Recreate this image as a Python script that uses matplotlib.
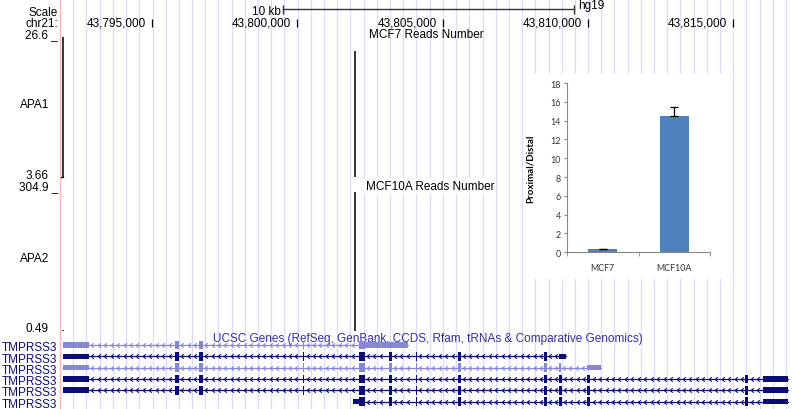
import numpy as np
import matplotlib
matplotlib.use('Agg')
import matplotlib.pyplot as plt
from matplotlib.path import Path
from matplotlib.patches import Rectangle

axis_ticks = [43795000, 43800000, 43805000, 43810000, 43815000]
apa_sites = [43791940, 43801975]
mcf7_reads = [26.6, 24.3]
mcf10a_reads = [0.49, 300.0]
apa1_range = (3.66, 26.6)
apa2_range = (0.49, 304.9)
scale_bar = (43799506, 43809506)

# TMPRSS3 transcripts (exon start, end) and coding range
ex_head = [(43791942, 43792835), (43795790, 43795928), (43796615, 43796752), (43800188, 43800240)]
ex_mid = [(43803143, 43803246), (43804071, 43804122), (43805514, 43805617), (43808486, 43808572)]
ex_tail = [(43809002, 43809088), (43809981, 43810084), (43815410, 43815513), (43816028, 43816887)]
tx1_exons = ex_head + [(43802113, 43803796)]
tx2_exons = ex_head + [(43802113, 43802319)] + ex_mid + [(43809002, 43809225)]
tx3_exons = ex_head + [(43802113, 43802319)] + ex_mid + [(43809002, 43809060), (43809981, 43810462)]
tx4_exons = ex_head + [(43802113, 43802319)] + ex_mid + ex_tail
tx5_exons = ex_head + [(43802113, 43802319)] + ex_mid + ex_tail
tx6_exons = [(43801906, 43802319)] + ex_mid + ex_tail
tx_cds = [(43795790, 43802319), (43795790, 43808572), (43795790, 43809060),
          (43795790, 43815513), (43795790, 43815513), (43802113, 43815513)]
tx_shade = ['light', 'dark', 'light', 'dark', 'dark', 'dark']
tx_names = ['TMPRSS3'] * 6

# inset bar chart
cells = ['MCF7', 'MCF10A']
ratio = [0.35, 14.45]
ratio_err = [0.05, 1.05]

# ---- layout: pixel -> genome ----
BP_PX = 34.4
X0_PX = 152


def g(px):
    return axis_ticks[0] + (px - X0_PX) * BP_PX


plt.rcParams['font.family'] = ['Liberation Sans', 'DejaVu Sans']
fig = plt.figure(figsize=(7.92, 4.10), dpi=100)
ax = fig.add_axes([0, 0, 1, 1])
ax.set_xlim(g(0), g(792))
ax.set_ylim(410, 0)
ax.axis('off')

FS = 8.5
dark = '#0c0c78'
light = '#8787d6'

# guidelines
grid_px = np.arange(73.3, 792, 13.2)
ax.vlines([g(p) for p in grid_px], 0, 410, color='#dcdcf8', lw=0.9, zorder=0)
ax.vlines(g(60.5), 0, 410, color='#f4b8b8', lw=0.9, zorder=1)

# left labels
ax.text(g(58), 16.3, 'Scale', ha='right', fontsize=FS)
ax.text(g(58), 26.8, 'chr21:', ha='right', fontsize=FS)
ax.text(g(58), 37.8, '26.6 _', ha='right', fontsize=FS)
ax.text(g(35), 108, 'APA1', ha='center', fontsize=FS)
ax.text(g(48.5), 179, '3.66', ha='right', fontsize=FS)
ax.text(g(58), 190.5, '304.9 _', ha='right', fontsize=FS)
ax.text(g(35), 262, 'APA2', ha='center', fontsize=FS)
ax.text(g(48.5), 331.7, '0.49', ha='right', fontsize=FS)

# scale bar
ax.plot(scale_bar, [10, 10], color='#333333', lw=1)
ax.vlines(scale_bar, 6, 14.5, color='#333333', lw=1)
ax.text(scale_bar[0] - 2 * BP_PX, 15, '10 kb', ha='right', fontsize=FS)
ax.text(scale_bar[1] + 4 * BP_PX, 9.5, 'hg19', ha='left', fontsize=FS)

# position ruler
for t in axis_ticks:
    ax.vlines(t, 19.5, 27.5, color='black', lw=0.9)
    ax.text(t - 6 * BP_PX, 27, '{:,}'.format(t), ha='right', fontsize=FS)

# signal tracks
mid = (g(60) + g(792)) / 2
ax.text(mid, 37.8, 'MCF7 Reads Number', ha='center', fontsize=FS)
ax.text(g(430), 190, 'MCF10A Reads Number', ha='center', fontsize=FS,
        bbox=dict(facecolor='white', edgecolor='none', pad=1.5), zorder=4)


def draw_signal(sites, vals, vrange, top, bottom):
    lo, hi = vrange
    for s, v in zip(sites, vals):
        y = bottom - (v - lo) / (hi - lo) * (bottom - top)
        y = min(y, bottom - 1)
        ax.vlines(s, y, bottom, color='black', lw=1.1, zorder=3)


draw_signal(apa_sites, mcf7_reads, apa1_range, 38, 178)
ax.plot([g(61), apa_sites[0]], [177.5, 177.5], color='black', lw=0.9)
draw_signal(apa_sites, mcf10a_reads, apa2_range, 191, 332)

# genes
ax.text(mid + 2 * BP_PX, 342.5, 'UCSC Genes (RefSeq, GenBank, CCDS, Rfam, tRNAs & Comparative Genomics)',
        ha='center', fontsize=FS, color='#2e2ea8')

chevron = Path([(0.6, 1), (-0.6, 0), (0.6, -1)], [Path.MOVETO, Path.LINETO, Path.LINETO])
all_tx = [tx1_exons, tx2_exons, tx3_exons, tx4_exons, tx5_exons, tx6_exons]
row_y = [346, 357.3, 368.6, 379.9, 391.2, 402.5]
for i, exons in enumerate(all_tx):
    y = row_y[i]
    col = dark if tx_shade[i] == 'dark' else light
    ax.text(g(57.5), y + 5.3, tx_names[i], ha='right', fontsize=FS, color=dark)
    ax.plot([exons[0][0], exons[-1][1]], [y, y], color=col, lw=0.9, zorder=2)
    for (e1, s2) in zip([e[1] for e in exons[:-1]], [e[0] for e in exons[1:]]):
        xs = np.arange(e1 + 110, s2 - 70, 222)
        ax.plot(xs, [y] * len(xs), linestyle='none', marker=chevron, markersize=3.2,
                mfc='none', mec=col, mew=0.8, zorder=2)
    c0, c1 = tx_cds[i]
    for s, e in exons:
        # utr parts
        ax.add_patch(Rectangle((s, y - 2.8), e - s, 5.6, color=col, lw=0, zorder=3))
        cs, ce = max(s, c0), min(e, c1)
        if ce > cs:
            w = max(ce - cs, 1.5 * BP_PX)
            ax.add_patch(Rectangle((cs, y - 4.3), w, 8.6, color=col, lw=0, zorder=3))

# inset chart
ax.add_patch(Rectangle((g(524), 75), g(732) - g(524), 205, color='white', lw=0, zorder=5))
ax2 = fig.add_axes([567 / 792, (410 - 253.3) / 410, 143 / 792, 169.3 / 410])
ax2.bar(range(len(cells)), ratio, width=0.4, color='#4f81bd',
        yerr=[[0] * len(cells), ratio_err],
        error_kw=dict(ecolor='black', elinewidth=0.9, capsize=3, capthick=0.9))
ax2.set_xlim(-0.5, 1.5)
ax2.set_ylim(0, 18)
ax2.set_yticks(range(0, 19, 2))
ax2.set_xticks(range(len(cells)))
ax2.set_xticklabels(cells)
ax2.set_xticks([-0.5, 0.5, 1.5], minor=True)
for side in ['top', 'right']:
    ax2.spines[side].set_visible(False)
for side in ['left', 'bottom']:
    ax2.spines[side].set_color('#888888')
    ax2.spines[side].set_linewidth(0.8)
ax2.tick_params(axis='y', labelsize=6.4, colors='#888888', labelcolor='#333333', length=2.5, pad=2)
ax2.tick_params(axis='x', which='major', labelsize=6.4, labelcolor='#333333', length=0, pad=8)
ax2.tick_params(axis='x', which='minor', colors='#888888', length=3)
for lab in ax2.get_xticklabels() + ax2.get_yticklabels():
    lab.set_family(['Lato', 'DejaVu Sans'])
ax2.set_ylabel('Proximal/Distal', fontsize=7, fontweight='bold', family=['Lato', 'DejaVu Sans'])
ax2.yaxis.set_label_coords(-(567 - 535) / 143, 0.5)

fig.savefig('out.png', dpi=100)
